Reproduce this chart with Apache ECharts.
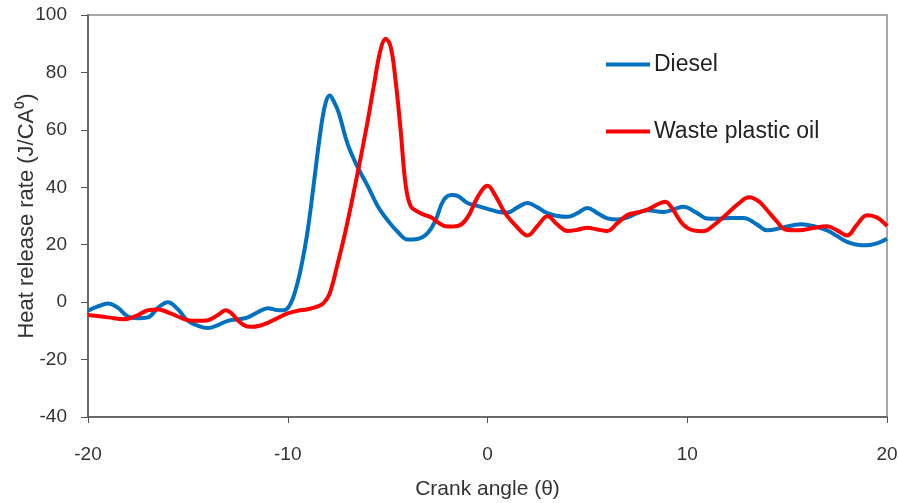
<!DOCTYPE html>
<html>
<head>
<meta charset="utf-8">
<script src="https://cdn.jsdelivr.net/npm/echarts@6/dist/echarts.min.js"></script>
<style>html,body{margin:0;padding:0;background:#fff}#c{width:898px;height:503px}</style>
</head>
<body>
<div id="c"></div>
<script>
var seriesNames = ['Diesel', 'Waste plastic oil'];
var dieselAngle = [-20,-19.5,-19,-18.5,-18,-17.5,-17,-16.5,-16,-15.5,-15,-14.5,-14,-13.5,-13,-12.5,-12,-11.5,-11,-10.5,-10.2,-9.85,-9.5,-9.25,-9,-8.7,-8.35,-8.1,-7.9,-7.7,-7.45,-7,-6.5,-6,-5.5,-5,-4.5,-4,-3.5,-3,-2.6,-2.2,-1.8,-1.5,-1,-0.5,0,0.5,1,1.5,2,2.5,3,3.5,4,4.5,5,5.5,6,6.5,7,7.5,8,8.8,9.4,9.8,10.5,11,11.5,12,12.8,13.5,14,14.8,15.7,16.3,17,17.5,18,18.5,19,19.5,20];
var dieselHRR = [-3,-1.5,-0.5,-2,-5,-5.6,-5.3,-2,0,-2.5,-6.5,-8.2,-9,-8,-6.5,-6,-5.3,-3.5,-2.1,-2.8,-2.8,-0.4,7,15,25,41,60,69.5,72,70,66,55,47,40.5,33.5,28.5,24.5,21.8,22,24,28.5,35.5,37.3,37,34.5,33.5,32.5,31.5,31.2,33,34.5,33,31,30,29.7,31,32.8,31,29.2,28.8,29.5,31,32,31.4,32.5,33.2,31,29.1,29,29.3,29.3,27,25,26,27.1,26.5,25,23,21,20,19.8,20.5,22.1];
var wpoAngle = [-20,-19,-18.2,-17.5,-17,-16.5,-16.2,-15.5,-15,-14.5,-14,-13.5,-13.1,-12.8,-12.5,-12.2,-11.85,-11.4,-11,-10.5,-10,-9.5,-9,-8.5,-8.2,-7.9,-7.5,-7.1,-6.5,-6,-5.7,-5.35,-5.1,-4.85,-4.6,-4.35,-4.1,-3.85,-3.5,-3.2,-2.8,-2.5,-2,-1.5,-1,-0.5,0,0.4,0.9,1.5,2,2.5,3,3.5,4,4.5,5,5.5,6,6.5,7,7.5,8,8.5,8.9,9.3,9.8,10.3,10.8,11.4,12,12.6,13.1,13.6,14,14.5,14.9,15.6,16.3,17,17.5,18,18.5,19,19.5,20];
var wpoHRR = [-4.5,-5.3,-6,-4.5,-2.8,-2.6,-3,-5,-6.3,-6.5,-6.3,-4.5,-2.8,-4,-6.3,-8,-8.6,-8.2,-7.2,-5.5,-3.9,-3,-2.5,-1.5,-0.3,3,13.5,25,45,63,75,88,91.7,89,77,60,41,33.5,31.5,30.5,29.5,27.8,26.3,26.5,29.5,36.5,40.5,37,30.8,26,23.2,26.5,29.9,27,24.8,25.2,25.9,25.3,24.8,27.5,30.3,31.2,32.2,34,35,32,27,25,24.7,27.2,30.8,34.5,36.5,35,32,28,25.3,25,25.8,26.4,25,23.2,27,30.3,29.5,26.5];

function pairs(xs, ys) { return xs.map(function (x, i) { return [x, ys[i]]; }); }

var chart = echarts.init(document.getElementById('c'));
var font = 'Liberation Sans, Arial, sans-serif';
chart.setOption({
  animation: false,
  grid: { left: 88, right: 11, top: 15, bottom: 86, show: true, borderColor: '#8c8c8c', borderWidth: 1.5,
          containLabel: false, outerBoundsMode: 'none' },
  legend: {
    orient: 'vertical', left: 601, top: 48, itemGap: 44, itemWidth: 44, itemHeight: 4,
    icon: 'rect',
    textStyle: { fontFamily: font, fontSize: 23, color: '#222', padding: [0,0,0,-1] },
    data: seriesNames
  },
  xAxis: {
    type: 'value', min: -20, max: 20, interval: 10,
    name: 'Crank angle (θ)', nameLocation: 'middle', nameGap: 62, nameMoveOverlap: false,
    nameTextStyle: { fontFamily: font, fontSize: 21, color: '#333' },
    axisLine: { onZero: false, lineStyle: { color: '#555', width: 1.5 } },
    axisTick: { show: true, length: 6, lineStyle: { color: '#555' } },
    axisLabel: { fontFamily: font, fontSize: 19, color: '#333', margin: 28 },
    splitLine: { show: false }
  },
  yAxis: {
    type: 'value', min: -40, max: 100, interval: 20,
    name: 'Heat release rate (J/CA⁰)', nameLocation: 'middle', nameGap: 50, nameMoveOverlap: false,
    nameTextStyle: { fontFamily: font, fontSize: 22, color: '#333' },
    axisLine: { show: true, onZero: false, lineStyle: { color: '#555', width: 1.5 } },
    axisTick: { show: true, length: 7, lineStyle: { color: '#555' } },
    axisLabel: { fontFamily: font, fontSize: 19, color: '#333', margin: 21 },
    splitLine: { show: false }
  },
  series: [
    { name: seriesNames[0], type: 'line', data: pairs(dieselAngle, dieselHRR), smooth: 0.4, showSymbol: false,
      lineStyle: { color: '#0070C0', width: 4 }, itemStyle: { color: '#0070C0' } },
    { name: seriesNames[1], type: 'line', data: pairs(wpoAngle, wpoHRR), smooth: 0.4, showSymbol: false,
      lineStyle: { color: '#FF0000', width: 4 }, itemStyle: { color: '#FF0000' } }
  ]
});
</script>
</body>
</html>
